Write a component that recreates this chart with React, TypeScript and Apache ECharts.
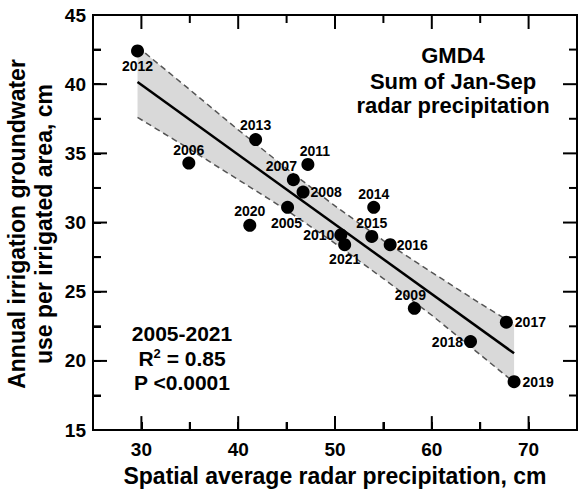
import React, { useEffect, useRef } from "react";
import * as echarts from "echarts";

// ---- Data ----
const years = ["2012", "2006", "2013", "2020", "2005", "2007", "2011", "2008", "2014", "2015", "2010", "2021", "2016", "2009", "2017", "2018", "2019"];
const precip = [29.6, 34.9, 41.8, 41.2, 45.1, 45.7, 47.2, 46.7, 54.0, 53.8, 50.6, 51.0, 55.7, 58.2, 67.7, 64.0, 68.5];
const irrigation = [42.4, 34.3, 36.0, 29.8, 31.1, 33.1, 34.2, 32.2, 31.1, 29.0, 29.1, 28.4, 28.4, 23.8, 22.8, 21.4, 18.5];

// regression line end points
const fitX = [29.6, 68.5];
const fitY = [40.15, 20.55];

// confidence band edges (read at several x positions)
const bandX = [29.6, 35, 40, 45, 50, 55, 60, 65, 68.5];
const bandUpper = [42.7, 39.6, 36.7, 33.9, 31.2, 28.7, 26.4, 24.15, 22.65];
const bandLower = [37.6, 35.3, 33.1, 30.9, 28.5, 25.95, 23.3, 20.45, 18.45];

// axis ticks / labels
const xMin = 25;
const xMax = 75;
const yMin = 15;
const yMax = 45;
const xMinorStep = 5;
const yMinorStep = 2.5;
const xMajorTicks = [30, 40, 50, 60, 70];
const xMinorTicks = [35, 45, 55, 65];
const yMajorTicks = [20, 25, 30, 35, 40];
const yMinorTicks = [17.5, 22.5, 27.5, 32.5, 37.5, 42.5];
const yLabels = [15, 20, 25, 30, 35, 40, 45];

const xTitle = "Spatial average radar precipitation, cm";
const yTitle = "Annual irrigation groundwater\nuse per irrigated area, cm";
const panelTitle = ["GMD4", "Sum of Jan-Sep", "radar precipitation"];
const statsLines = ["2005-2021", "= 0.85", "P <0.0001"];

// label placement per year (layout, not data)
const labelPlacement: Record<string, { position: string; distance: number; offset?: [number, number] }> = {
  "2012": { position: "bottom", distance: 2 },
  "2006": { position: "top", distance: 0 },
  "2013": { position: "top", distance: 1 },
  "2020": { position: "top", distance: 1 },
  "2005": { position: "bottom", distance: 2, offset: [-1, 0] },
  "2007": { position: "top", distance: 0, offset: [-12, 0] },
  "2011": { position: "top", distance: 0, offset: [7, 0] },
  "2008": { position: "right", distance: 1 },
  "2014": { position: "top", distance: 0 },
  "2015": { position: "top", distance: 0 },
  "2010": { position: "left", distance: 0 },
  "2021": { position: "bottom", distance: 1 },
  "2016": { position: "right", distance: 0 },
  "2009": { position: "top", distance: 0, offset: [-4, 0] },
  "2017": { position: "right", distance: 2 },
  "2018": { position: "left", distance: 1 },
  "2019": { position: "right", distance: 2 },
};

const FONT = "'Liberation Sans', Arial, Helvetica, sans-serif";
const MAJOR = 14;
const MINOR = 8;

export default function App() {
  const ref = useRef<HTMLDivElement>(null);

  useEffect(() => {
    if (!ref.current) return;
    const chart = echarts.init(ref.current, null, { renderer: "svg" });

    const scatterData = years.map((yr, i) => {
      const p = labelPlacement[yr];
      return {
        value: [precip[i], irrigation[i]],
        name: yr,
        label: { position: p.position, distance: p.distance, offset: p.offset || [0, 0] },
      };
    });

    const textStyle = (size: number) => ({
      fontFamily: FONT,
      fontWeight: "bold",
      fontSize: size,
      fill: "#000",
      textAlign: "center",
      textVerticalAlign: "middle",
    });

    // frame ticks: a custom series per side; each tick is a rect placed with api.coord
    const sideTicks = (side: string, values: number[], majors: number[]) => ({
      type: "custom",
      coordinateSystem: "cartesian2d",
      clip: false,
      data: values.map((v) =>
        side === "bottom" ? [v, yMin] : side === "top" ? [v, yMax] : side === "left" ? [xMin, v] : [xMax, v]
      ),
      renderItem: (params: any, api: any) => {
        const vx = api.value(0);
        const vy = api.value(1);
        const p = api.coord([vx, vy]);
        const len = majors.indexOf(side === "bottom" || side === "top" ? vx : vy) >= 0 ? MAJOR : MINOR;
        let shape;
        if (side === "bottom") shape = { x: p[0] - 1, y: p[1] - len, width: 2, height: len };
        else if (side === "top") shape = { x: p[0] - 1, y: p[1], width: 2, height: len };
        else if (side === "left") shape = { x: p[0], y: p[1] - 1, width: len, height: 2 };
        else shape = { x: p[0] - len, y: p[1] - 1, width: len, height: 2 };
        return { type: "rect", shape, style: { fill: "#000" } };
      },
    });

    const option = {
      animation: false,
      grid: {
        left: 93,
        right: 2,
        top: 15,
        bottom: 59,
        show: true,
        borderColor: "#000",
        borderWidth: 2,
        backgroundColor: "transparent",
      },
      xAxis: {
        type: "value",
        min: xMin,
        max: xMax,
        interval: xMinorStep,
        splitLine: { show: false },
        axisLine: { show: true, onZero: false, lineStyle: { color: "#000", width: 2 } },
        axisTick: { show: true, inside: true, length: MINOR, lineStyle: { color: "#000", width: 2 } },
        name: xTitle,
        nameLocation: "middle",
        nameGap: 30,
        nameTextStyle: { fontFamily: FONT, fontWeight: "bold", fontSize: 23, color: "#000" },
        axisLabel: {
          show: true,
          margin: 10,
          fontFamily: FONT,
          fontWeight: "bold",
          fontSize: 19,
          color: "#000",
          formatter: (v: number) => (xMajorTicks.indexOf(v) >= 0 ? String(v) : ""),
        },
      },
      yAxis: {
        type: "value",
        min: yMin,
        max: yMax,
        interval: yMinorStep,
        splitLine: { show: false },
        axisLine: { show: true, onZero: false, lineStyle: { color: "#000", width: 2 } },
        axisTick: { show: true, inside: true, length: MINOR, lineStyle: { color: "#000", width: 2 } },
        axisLabel: {
          show: true,
          margin: 7,
          fontFamily: FONT,
          fontWeight: "bold",
          fontSize: 19,
          color: "#000",
          formatter: (v: number) => (yLabels.indexOf(v) >= 0 ? String(v) : ""),
        },
      },
      series: [
        {
          type: "custom",
          coordinateSystem: "cartesian2d",
          silent: true,
          z: 1,
          data: [[bandX[0], bandUpper[0]]],
          renderItem: (params: any, api: any) => {
            const pts: number[][] = [];
            for (let i = 0; i < bandX.length; i++) pts.push(api.coord([bandX[i], bandUpper[i]]));
            for (let i = bandX.length - 1; i >= 0; i--) pts.push(api.coord([bandX[i], bandLower[i]]));
            return { type: "polygon", shape: { points: pts }, style: { fill: "#d9d9d9", stroke: "none" } };
          },
        },
        {
          type: "line",
          z: 2,
          symbol: "none",
          data: bandX.map((x, i) => [x, bandUpper[i]]),
          lineStyle: { color: "#555", width: 1.5, type: [6, 4] },
        },
        {
          type: "line",
          z: 2,
          symbol: "none",
          data: bandX.map((x, i) => [x, bandLower[i]]),
          lineStyle: { color: "#555", width: 1.5, type: [6, 4] },
        },
        {
          type: "line",
          z: 3,
          symbol: "none",
          data: fitX.map((x, i) => [x, fitY[i]]),
          lineStyle: { color: "#000", width: 2.5 },
        },
        {
          type: "scatter",
          z: 4,
          symbolSize: 13,
          itemStyle: { color: "#000", opacity: 1 },
          label: {
            show: true,
            formatter: (p: any) => p.name,
            fontFamily: FONT,
            fontWeight: "bold",
            fontSize: 14,
            color: "#000",
          },
          data: scatterData,
        },
        sideTicks("bottom", [...xMajorTicks, ...xMinorTicks], xMajorTicks),
        sideTicks("top", [...xMajorTicks, ...xMinorTicks], xMajorTicks),
        sideTicks("left", [...yMajorTicks, ...yMinorTicks], yMajorTicks),
        sideTicks("right", [...yMajorTicks, ...yMinorTicks], yMajorTicks),
      ],
      graphic: [
        {
          type: "text",
          x: 30,
          y: 224,
          rotation: Math.PI / 2,
          style: { ...textStyle(23), text: yTitle, lineHeight: 27 },
        },
        { type: "text", x: 453, y: 55, style: { ...textStyle(22), text: panelTitle[0] } },
        { type: "text", x: 453, y: 81, style: { ...textStyle(22), text: panelTitle[1] } },
        { type: "text", x: 453, y: 105, style: { ...textStyle(22), text: panelTitle[2] } },
        { type: "text", x: 182, y: 333, style: { ...textStyle(21), text: statsLines[0] } },
        {
          type: "text",
          x: 182,
          y: 358,
          style: {
            ...textStyle(21),
            text: "{a|R}{s|2}{a| " + statsLines[1] + "}",
            rich: {
              a: { fontFamily: FONT, fontWeight: "bold", fontSize: 21, fill: "#000" },
              s: { fontFamily: FONT, fontWeight: "bold", fontSize: 13, fill: "#000", padding: [0, 0, 10, 0] },
            },
          },
        },
        { type: "text", x: 182, y: 382, style: { ...textStyle(21), text: statsLines[2] } },
      ],
    };

    chart.setOption(option as any);
    return () => chart.dispose();
  }, []);

  return <div ref={ref} style={{ position: "absolute", left: 0, top: 0, width: 580, height: 492, background: "#fff" }} />;
}
